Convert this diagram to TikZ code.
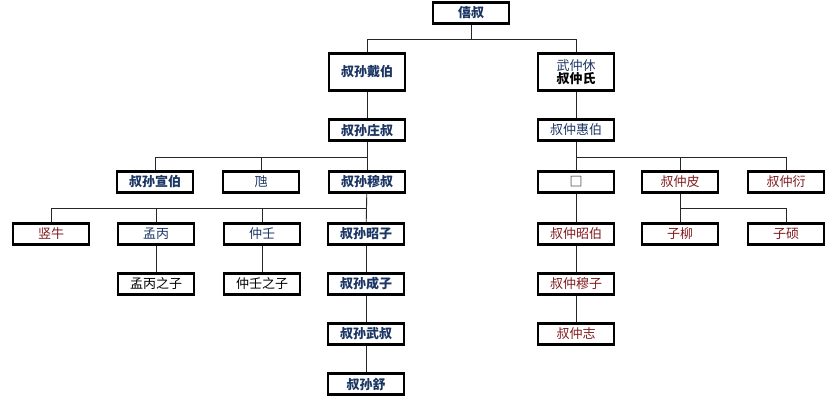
\documentclass[tikz,border=0pt]{standalone}
\usepackage{fontspec}
\usepackage{xcolor}
\usepackage{tikz}
\setmainfont{Noto Sans CJK SC}
\definecolor{navy}{RGB}{28,54,100}
\definecolor{darkred}{RGB}{128,28,32}
\tikzset{
  box/.style={draw=black,line width=2.6pt,fill=white,minimum width=76pt,minimum height=21pt,inner sep=0pt,font=\fontsize{13}{15}\selectfont},
  tall/.style={minimum height=37pt},
  lord/.style={box,text=navy,font=\fontsize{13}{15}\selectfont\bfseries},
  kin/.style={box,text=navy},
  plain/.style={box,text=black},
  zhong/.style={box,text=darkred},
  link/.style={draw=black!85,line width=0.9pt}
}
\begin{document}
\begin{tikzpicture}[x=1pt,y=-1pt]
    \useasboundingbox[fill=white] (0,0) rectangle (831,402);
    % top
    \node[lord] (xishu) at (471,13) {僖叔};
    \node[lord,tall] (daibo) at (367,72) {叔孙戴伯};
    \node[box,tall,align=center] (zhongshi) at (576,72) {{\color{navy}武仲休}\\[-2pt]{\bfseries 叔仲氏}};
    % left line
    \node[lord] (zhuangshu) at (367,130) {叔孙庄叔};
    \node[lord] (xuanbo) at (155,182) {叔孙宣伯};
    \node[kin] (hui) at (261,182) {虺};
    \node[lord] (mushu) at (367,182) {叔孙穆叔};
    \node[zhong] (shuniu) at (51,234) {竖牛};
    \node[kin] (mengbing) at (156,234) {孟丙};
    \node[kin] (zhongren) at (262,234) {仲壬};
    \node[lord] (zhaozi) at (366,234) {叔孙昭子};
    \node[plain] (mbzi) at (156,284) {孟丙之子};
    \node[plain] (zrzi) at (262,284) {仲壬之子};
    \node[lord] (chengzi) at (366,284) {叔孙成子};
    \node[lord] (wushu) at (366,334) {叔孙武叔};
    \node[lord] (shu) at (366,384) {叔孙舒};
    % right line
    \node[kin] (huibo) at (576,130) {叔仲惠伯};
    \node[plain] (kong) at (576,182) {□};
    \node[zhong] (pi) at (680,182) {叔仲皮};
    \node[zhong] (yan) at (786,182) {叔仲衍};
    \node[zhong] (zhaobo) at (576,234) {叔仲昭伯};
    \node[zhong] (ziliu) at (680,234) {子柳};
    \node[zhong] (zishuo) at (786,234) {子硕};
    \node[zhong] (muzi) at (576,284) {叔仲穆子};
    \node[zhong] (zhi) at (576,334) {叔仲志};
    % connectors
    \path[link] (xishu.south) -- (xishu.south |- 0,39);
    \path[link] (daibo.north) |- (zhongshi.north |- 0,39) -- (zhongshi.north);
    \path[link] (daibo) -- (zhuangshu);
    \path[link] (zhuangshu) -- (mushu);
    \path[link] (xuanbo.north) |- (mushu.north |- 0,157);
    \path[link] (hui.north) -- (hui.north |- 0,157);
    \path[link] (mushu) -- (zhaozi);
    \path[link] (shuniu.north) |- (zhaozi.north |- 0,208);
    \path[link] (mengbing.north) -- (mengbing.north |- 0,208);
    \path[link] (zhongren.north) -- (zhongren.north |- 0,208);
    \path[link] (mengbing) -- (mbzi);
    \path[link] (zhongren) -- (zrzi);
    \path[link] (zhaozi) -- (chengzi);
    \path[link] (chengzi) -- (wushu);
    \path[link] (wushu) -- (shu);
    \path[link] (zhongshi) -- (huibo);
    \path[link] (huibo) -- (kong);
    \path[link] (kong.north) |- (yan.north |- 0,157) -- (yan.north);
    \path[link] (pi.north) -- (pi.north |- 0,157);
    \path[link] (kong) -- (zhaobo);
    \path[link] (pi.south) |- (zishuo.north |- 0,208) -- (zishuo.north);
    \path[link] (pi) -- (ziliu);
    \path[link] (zhaobo) -- (muzi);
    \path[link] (muzi) -- (zhi);
\end{tikzpicture}
\end{document}
